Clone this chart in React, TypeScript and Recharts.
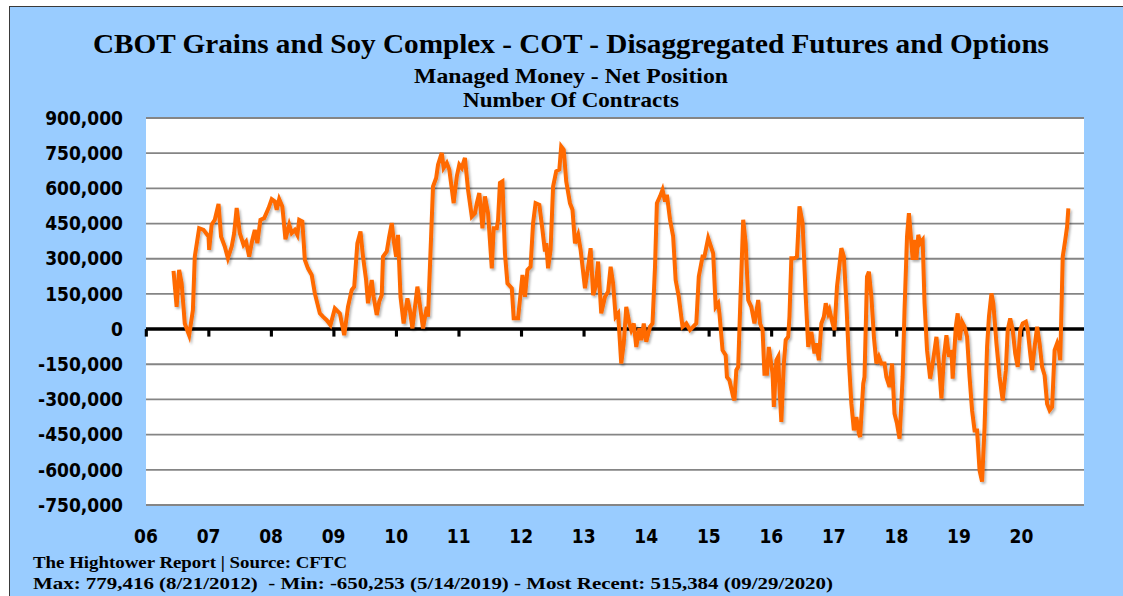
import { CartesianGrid, Line, LineChart, ReferenceArea, ReferenceLine, XAxis, YAxis } from 'recharts';

// decimal year of each reading
const weeks = [
  2006.44, 2006.49, 2006.53, 2006.57, 2006.62, 2006.69, 2006.75, 2006.78, 2006.85, 2006.92,
  2007.0, 2007.01, 2007.05, 2007.1, 2007.16, 2007.2, 2007.26, 2007.31, 2007.37, 2007.41, 2007.45, 2007.5,
  2007.56, 2007.6, 2007.65, 2007.7, 2007.74, 2007.78, 2007.83, 2007.89, 2007.96,
  2008.01, 2008.06, 2008.09, 2008.13, 2008.18, 2008.23, 2008.29, 2008.33, 2008.38, 2008.42, 2008.45, 2008.5,
  2008.54, 2008.59, 2008.65, 2008.7, 2008.78, 2008.83, 2008.89, 2008.95,
  2009.02, 2009.1, 2009.17, 2009.23, 2009.29, 2009.33, 2009.38, 2009.43, 2009.47, 2009.52, 2009.55, 2009.61,
  2009.64, 2009.69, 2009.73, 2009.77, 2009.79, 2009.85, 2009.89, 2009.93, 2009.96,
  2010.0, 2010.03, 2010.07, 2010.12, 2010.18, 2010.22, 2010.26, 2010.34, 2010.39, 2010.43, 2010.49, 2010.51,
  2010.59, 2010.64, 2010.67, 2010.73, 2010.76, 2010.81, 2010.85, 2010.92, 2010.97,
  2011.01, 2011.05, 2011.1, 2011.15, 2011.21, 2011.26, 2011.29, 2011.33, 2011.38, 2011.42, 2011.47, 2011.53,
  2011.56, 2011.61, 2011.63, 2011.66, 2011.7, 2011.74, 2011.78, 2011.85, 2011.88, 2011.95,
  2012.02, 2012.06, 2012.1, 2012.15, 2012.19, 2012.23, 2012.29, 2012.34, 2012.38, 2012.4, 2012.43, 2012.47,
  2012.51, 2012.56, 2012.61, 2012.64, 2012.68, 2012.72, 2012.78, 2012.82, 2012.86, 2012.91, 2012.95,
  2013.02, 2013.07, 2013.11, 2013.15, 2013.19, 2013.23, 2013.28, 2013.34, 2013.39, 2013.43, 2013.47, 2013.51,
  2013.55, 2013.6, 2013.64, 2013.68, 2013.73, 2013.76, 2013.8, 2013.84, 2013.89, 2013.92, 2013.96,
  2014.0, 2014.06, 2014.1, 2014.14, 2014.17, 2014.22, 2014.26, 2014.3, 2014.33, 2014.38, 2014.43, 2014.47,
  2014.52, 2014.58, 2014.64, 2014.7, 2014.75, 2014.8, 2014.84, 2014.9, 2014.93, 2014.99,
  2015.07, 2015.11, 2015.15, 2015.17, 2015.22, 2015.27, 2015.29, 2015.33, 2015.39, 2015.41, 2015.44, 2015.47,
  2015.5, 2015.55, 2015.59, 2015.63, 2015.68, 2015.73, 2015.79, 2015.82, 2015.86, 2015.89, 2015.93, 2015.96,
  2016.02, 2016.04, 2016.08, 2016.11, 2016.13, 2016.16, 2016.2, 2016.23, 2016.27, 2016.29, 2016.32, 2016.37,
  2016.41, 2016.45, 2016.5, 2016.55, 2016.59, 2016.64, 2016.69, 2016.72, 2016.76, 2016.8, 2016.84, 2016.87,
  2016.91, 2016.93, 2016.98,
  2017.01, 2017.05, 2017.09, 2017.12, 2017.16, 2017.2, 2017.24, 2017.28, 2017.32, 2017.36, 2017.4, 2017.42,
  2017.47, 2017.49, 2017.53, 2017.56, 2017.6, 2017.64, 2017.68, 2017.72, 2017.76, 2017.81, 2017.84, 2017.89,
  2017.93, 2017.97,
  2018.01, 2018.05, 2018.1, 2018.13, 2018.17, 2018.2, 2018.24, 2018.26, 2018.29, 2018.32, 2018.35, 2018.38,
  2018.42, 2018.45, 2018.49, 2018.54, 2018.58, 2018.64, 2018.68, 2018.72, 2018.76, 2018.8, 2018.84, 2018.88,
  2018.9, 2018.95, 2018.98,
  2019.01, 2019.05, 2019.09, 2019.13, 2019.17, 2019.21, 2019.25, 2019.29, 2019.33, 2019.37, 2019.41, 2019.45,
  2019.48, 2019.52, 2019.55, 2019.6, 2019.65, 2019.7, 2019.75, 2019.78, 2019.82, 2019.86, 2019.9, 2019.94,
  2019.98,
  2020.02, 2020.07, 2020.1, 2020.14, 2020.17, 2020.21, 2020.25, 2020.29, 2020.33, 2020.37, 2020.41, 2020.45,
  2020.49, 2020.53, 2020.57, 2020.6, 2020.62, 2020.66, 2020.7, 2020.73, 2020.75,
];

// managed money net position, thousands of contracts
const netK = [
  248, 95, 252, 195, 24, -26, 81, 309, 430, 423,
  395, 338, 445, 466, 534, 395, 352, 302, 352, 409, 516, 409,
  359, 373, 309, 380, 423, 366, 466, 473, 516,
  554, 544, 509, 554, 523, 383, 445, 409, 423, 402, 466, 459,
  295, 259, 231, 152, 67, 53, 38, 17,
  88, 67, -26, 95, 167, 181, 366, 416, 309, 209, 110, 209,
  138, 60, 117, 145, 309, 331, 395, 452, 380,
  309, 402, 138, 24, 131, 81, 3, 181, 81, 3, 95, 53,
  608, 644, 701, 751, 687, 708, 680, 537, 651,
  701, 687, 730, 594, 480, 494, 537, 580, 430, 566, 494, 259,
  430, 430, 466, 623, 630, 323, 195, 174, 46, 46,
  231, 138, 252, 266, 452, 537, 530, 423, 331, 366, 259, 338,
  608, 673, 680, 779, 765, 630, 537, 509, 366, 402, 338,
  174, 266, 345, 145, 181, 288, 67, 138, 160, 266, 195, 53,
  67, -147, -61, 95, 24, -4, 24, -76, 3, -47, 24,
  -54, 10, 24, 266, 537, 566, 594, 544, 573, 466, 395, 209,
  138, 10, 24, -4, 10, 24, 224, 309, 309, 388,
  323, 95, 110, 67, -90, -111, -204, -218, -289, -304, -175, -161,
  81, 466, 366, 124, 95, 24, 124, 24, -4, -190, -190, -76,
  -190, -332, -133, -118, -247, -396, -147, -47, -33, 53, 302, 302,
  309, 523, 452, 138, -76, -11, -104, -61, -133, 24, 53, 110,
  67, 81, 24,
  -4, 181, 274, 345, 309, 110, -133, -318, -432, -375, -446, -460,
  -232, -204, 224, 245, 138, -33, -147, -118, -147, -147, -204, -247,
  -147, -361,
  -403, -467, -204, 81, 395, 494, 366, 295, 380, 295, 402, 366,
  380, 110, -90, -211, -147, -33, -147, -296, -118, -26, -118, -90,
  -211, 10, 67,
  -47, 31, 10, -33, -204, -346, -432, -432, -603, -650, -417, -76,
  53, 152, 110, -61, -204, -304, -175, -4, 46, -4, -104, -161,
  -4,
  24, 31, -4, -104, -175, -76, 10, -61, -161, -197, -318, -346,
  -332, -90, -61, -90, -133, 309, 380, 437, 515,
];

const yearTicks = [2006, 2007, 2008, 2009, 2010, 2011, 2012, 2013, 2014, 2015, 2016, 2017, 2018, 2019, 2020];
const valueTicks = [-750000, -600000, -450000, -300000, -150000, 0, 150000, 300000, 450000, 600000, 750000, 900000];

const title = 'CBOT Grains and Soy Complex - COT - Disaggregated Futures and Options';
const subtitle1 = 'Managed Money - Net Position';
const subtitle2 = 'Number Of Contracts';
const footer1 = 'The Hightower Report | Source: CFTC';
const footer2 = 'Max: 779,416 (8/21/2012)  - Min: -650,253 (5/14/2019) - Most Recent: 515,384 (09/29/2020)';

const data = weeks.map((t, i) => ({ t, net: netK[i] * 1000 }));

const serif = '"Liberation Serif", "DejaVu Serif", serif';
const sans = '"DejaVu Sans Condensed", "DejaVu Sans", sans-serif';
const tickStyle = { fontFamily: sans, fontWeight: 700, fontSize: 19, fill: '#000' };

export default function App() {
  return (
    <div style={{ position: 'absolute', left: 0, top: 0, width: 1123, height: 596, background: '#fff', overflow: 'hidden' }}>
      <div
        style={{
          position: 'absolute',
          left: 9,
          top: 6,
          width: 1114,
          height: 590,
          background: '#99ccff',
          borderLeft: '1px solid #3a3a3a',
          borderTop: '1px solid #3a3a3a',
        }}
      />
      <div style={{ position: 'absolute', left: 0, top: 0 }}>
        <LineChart width={1123} height={596} data={data} margin={{ top: 118, right: 39, bottom: 31, left: 36 }}>
          <defs>
            <filter id="lineShadow" x="-5%" y="-5%" width="110%" height="110%">
              <feDropShadow dx="1.5" dy="2" stdDeviation="1.2" floodColor="#000" floodOpacity="0.3" />
            </filter>
          </defs>
          <CartesianGrid vertical={false} fill="#fff" stroke="#858585" strokeWidth={1.8} />
          <XAxis
            dataKey="t"
            type="number"
            domain={[2006, 2021]}
            ticks={yearTicks}
            tickFormatter={(v: number) => String(v).slice(2)}
            axisLine={false}
            tickLine={false}
            tickSize={0}
            tickMargin={25}
            height={60}
            tick={tickStyle}
            interval={0}
          />
          <YAxis
            type="number"
            domain={[-750000, 900000]}
            ticks={valueTicks}
            tickFormatter={(v: number) => v.toLocaleString('en-US')}
            axisLine={false}
            tickLine={false}
            tickSize={0}
            tickMargin={23}
            width={110}
            tick={tickStyle}
            interval={0}
          />
          {yearTicks.map((yr) => (
            <ReferenceArea
              key={yr}
              x1={yr - 0.02}
              x2={yr + 0.03}
              y1={-32000}
              y2={0}
              fill="#000"
              fillOpacity={1}
              stroke="none"
              ifOverflow="visible"
            />
          ))}
          <ReferenceLine y={0} stroke="#000" strokeWidth={3.5} />
          <Line
            type="linear"
            dataKey="net"
            stroke="#ff6a00"
            strokeWidth={4}
            dot={false}
            isAnimationActive={false}
            filter="url(#lineShadow)"
          />
        </LineChart>
      </div>
      <svg width={1123} height={596} style={{ position: 'absolute', left: 0, top: 0, pointerEvents: 'none' }}>
        <text x={93} y={53} fontFamily={serif} fontWeight={700} fontSize={27} textLength={956} lengthAdjust="spacingAndGlyphs">
          {title}
        </text>
        <text x={414} y={83} fontFamily={serif} fontWeight={700} fontSize={21} textLength={314} lengthAdjust="spacingAndGlyphs">
          {subtitle1}
        </text>
        <text x={463} y={107} fontFamily={serif} fontWeight={700} fontSize={21} textLength={216} lengthAdjust="spacingAndGlyphs">
          {subtitle2}
        </text>
        <text x={33} y={568} fontFamily={serif} fontWeight={700} fontSize={16} textLength={314} lengthAdjust="spacingAndGlyphs">
          {footer1}
        </text>
        <text
          x={33}
          y={589}
          fontFamily={serif}
          fontWeight={700}
          fontSize={16}
          textLength={800}
          lengthAdjust="spacingAndGlyphs"
          style={{ whiteSpace: 'pre' }}
        >
          {footer2}
        </text>
      </svg>
    </div>
  );
}
